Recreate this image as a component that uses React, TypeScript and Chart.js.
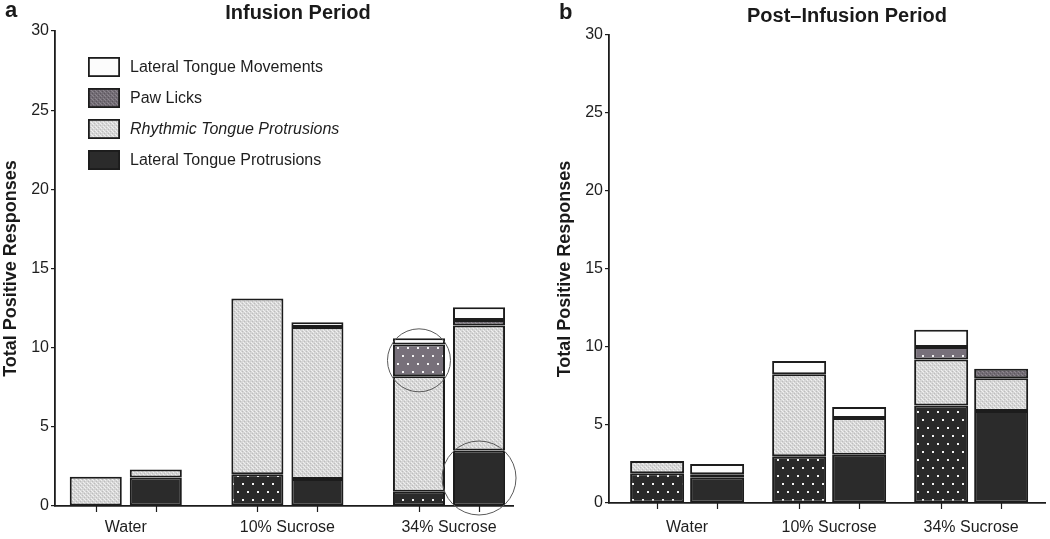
import React, { useEffect, useRef } from "react";
import { Chart, registerables } from "chart.js";

Chart.register(...registerables);

const FONT = "'Liberation Sans', Arial, Helvetica, sans-serif";

// ---------- data ----------
const CATEGORIES = ["Water", "10% Sucrose", "34% Sucrose"];
const Y_TICKS = [0, 5, 10, 15, 20, 25, 30];
// stacked bottom -> top
const BEHAVIORS = [
  "Lateral Tongue Protrusions",
  "Rhythmic Tongue Protrusions",
  "Paw Licks",
  "Lateral Tongue Movements",
];
// legend order top -> bottom
const LEGEND_ORDER = [3, 2, 1, 0];

// Panel a: Infusion Period (A = left bar of each pair, B = right bar)
const infA_LTP = [0, 2.0, 0.9];
const infA_RTP = [1.85, 11.1, 7.3];
const infA_PL = [0, 0, 2.0];
const infA_LTM = [0, 0, 0.4];
const infB_LTP = [1.8, 1.7, 3.5];
const infB_RTP = [0.5, 9.6, 7.9];
const infB_PL = [0, 0, 0.35];
const infB_LTM = [0, 0.3, 0.8];

// Panel b: Post-Infusion Period
const postA_LTP = [1.9, 3.0, 6.25];
const postA_RTP = [0.8, 5.25, 2.95];
const postA_PL = [0, 0, 0.8];
const postA_LTM = [0, 0.85, 1.1];
const postB_LTP = [1.65, 3.1, 5.9];
const postB_RTP = [0.2, 2.35, 2.1];
const postB_PL = [0, 0, 0.6];
const postB_LTM = [0.65, 0.7, 0];

// ---------- layout config ----------
type PanelCfg = {
  left: number;
  width: number;
  height: number;
  seriesA: number[][];
  seriesB: number[][];
  yAxisWidth: number;
  padRight: number;
  padTop: number;
  xAxisHeight: number;
  xMin: number;
  xMax: number;
  catPct: number;
  barPct: number;
  xLabelPad: number;
  yTitlePad: number;
  title: string;
  titleX: number;
  titleY: number;
  letter: string;
  letterX: number;
  letterY: number;
  legend: boolean;
  circles: { ds: number; cat: number; r: number }[];
};

const PANEL_A: PanelCfg = {
  left: 0,
  width: 530,
  height: 539,
  seriesA: [infA_LTP, infA_RTP, infA_PL, infA_LTM],
  seriesB: [infB_LTP, infB_RTP, infB_PL, infB_LTM],
  yAxisWidth: 55,
  padRight: 17,
  padTop: 31,
  xAxisHeight: 33,
  xMin: -0.438,
  xMax: 2.396,
  catPct: 0.743,
  barPct: 0.867,
  xLabelPad: 12,
  yTitlePad: 0,
  title: "Infusion Period",
  titleX: 298,
  titleY: 19,
  letter: "a",
  letterX: 5,
  letterY: 17,
  legend: true,
  circles: [
    { ds: 2, cat: 2, r: 31.5 },
    { ds: 4, cat: 2, r: 37 },
  ],
};

const PANEL_B: PanelCfg = {
  left: 530,
  width: 520,
  height: 539,
  seriesA: [postA_LTP, postA_RTP, postA_PL, postA_LTM],
  seriesB: [postB_LTP, postB_RTP, postB_PL, postB_LTM],
  yAxisWidth: 79,
  padRight: 5,
  padTop: 35,
  xAxisHeight: 36,
  xMin: -0.55,
  xMax: 2.52,
  catPct: 0.845,
  barPct: 0.9,
  xLabelPad: 15,
  yTitlePad: 24,
  title: "Post\u2013Infusion Period",
  titleX: 317,
  titleY: 22,
  letter: "b",
  letterX: 29,
  letterY: 19,
  legend: false,
  circles: [],
};

// ---------- patterns ----------
function tile(
  ctx: CanvasRenderingContext2D,
  w: number,
  h: number,
  draw: (g: CanvasRenderingContext2D) => void
): CanvasPattern | string {
  const c = document.createElement("canvas");
  c.width = w;
  c.height = h;
  const g = c.getContext("2d")!;
  draw(g);
  return ctx.createPattern(c, "repeat") || "#888";
}

function makeFills(ctx: CanvasRenderingContext2D) {
  const dots = (base: string) => (g: CanvasRenderingContext2D) => {
    g.fillStyle = base;
    g.fillRect(0, 0, 10, 16);
    g.fillStyle = "#f2f2f2";
    g.fillRect(2, 3, 2, 2);
    g.fillRect(7, 11, 2, 2);
  };
  const stipple = (base: string, hi: string, lo: string) => (g: CanvasRenderingContext2D) => {
    g.fillStyle = base;
    g.fillRect(0, 0, 4, 4);
    g.fillStyle = hi;
    g.fillRect(1, 0, 1, 1);
    g.fillRect(3, 2, 1, 1);
    g.fillRect(0, 3, 1, 1);
    g.fillStyle = lo;
    g.fillRect(0, 1, 1, 1);
    g.fillRect(2, 3, 1, 1);
  };
  return {
    darkDots: tile(ctx, 10, 16, dots("#2a2a2a")),
    dark: "#2b2b2b",
    light: tile(ctx, 4, 4, stipple("#d6d6d6", "#f0f0f0", "#bdbdbd")),
    pawDots: tile(ctx, 10, 16, dots("#77707a")),
    paw: tile(ctx, 4, 4, stipple("#726c74", "#8c868e", "#5c565e")),
    white: "#fcfcfc",
  };
}

const INK = "#1c1c1c";

function Panel({ cfg }: { cfg: PanelCfg }) {
  const ref = useRef<HTMLCanvasElement>(null);

  useEffect(() => {
    const canvas = ref.current!;
    const ctx = canvas.getContext("2d")!;
    const F = makeFills(ctx);
    const fillsA = [F.darkDots, F.light, F.pawDots, F.white];
    const fillsB = [F.dark, F.light, F.paw, F.white];
    const legendFills = [F.dark, F.light, F.paw, F.white];

    const toPoints = (vals: number[]) => vals.map((v, i) => ({ x: i, y: v }));

    const datasets: any[] = [];
    [
      { stack: "A", series: cfg.seriesA, fills: fillsA },
      { stack: "B", series: cfg.seriesB, fills: fillsB },
    ].forEach((grp) => {
      grp.series.forEach((vals, s) => {
        datasets.push({
          label: BEHAVIORS[s],
          stack: grp.stack,
          data: toPoints(vals),
          backgroundColor: grp.fills[s],
          borderColor: INK,
          borderWidth: 2,
          borderSkipped: false,
          categoryPercentage: cfg.catPct,
          barPercentage: cfg.barPct,
        });
      });
    });

    const decor = {
      id: "decor",
      afterDatasetsDraw(chart: any) {
        const c = chart.ctx;
        c.save();
        c.strokeStyle = "#5a5a5a";
        c.lineWidth = 1;
        cfg.circles.forEach((ci) => {
          const el = chart.getDatasetMeta(ci.ds).data[ci.cat];
          if (!el) return;
          const cy = (el.y + el.base) / 2;
          c.beginPath();
          c.arc(el.x, cy, ci.r, 0, Math.PI * 2);
          c.stroke();
        });
        c.restore();
      },
      afterDraw(chart: any) {
        const c = chart.ctx;
        const area = chart.chartArea;
        c.save();
        // x tick marks under each bar
        c.strokeStyle = INK;
        c.lineWidth = 1.2;
        [0, 4].forEach((di) => {
          chart.getDatasetMeta(di).data.forEach((el: any) => {
            c.beginPath();
            c.moveTo(Math.round(el.x) + 0.5, area.bottom);
            c.lineTo(Math.round(el.x) + 0.5, area.bottom + 6);
            c.stroke();
          });
        });
        // titles
        c.fillStyle = "#1a1a1a";
        c.textBaseline = "alphabetic";
        c.font = `bold 20px ${FONT}`;
        c.textAlign = "center";
        c.fillText(cfg.title, cfg.titleX, cfg.titleY);
        c.font = `bold 22px ${FONT}`;
        c.textAlign = "left";
        c.fillText(cfg.letter, cfg.letterX, cfg.letterY);
        // legend
        if (cfg.legend) {
          const bx = area.left + 33;
          const by = area.top + 26;
          LEGEND_ORDER.forEach((s, row) => {
            const y = by + row * 31;
            c.fillStyle = legendFills[s] as any;
            c.fillRect(bx, y, 32, 20);
            c.strokeStyle = INK;
            c.lineWidth = 1.8;
            c.strokeRect(bx + 0.9, y + 0.9, 30.2, 18.2);
            c.fillStyle = "#1e1e1e";
            c.font = `${s === 1 ? "italic " : ""}16px ${FONT}`;
            c.textBaseline = "middle";
            c.textAlign = "left";
            c.fillText(BEHAVIORS[s], bx + 42, y + 10.5);
          });
        }
        c.restore();
      },
    };

    const chart = new Chart(ctx, {
      type: "bar",
      data: { datasets },
      options: {
        animation: false,
        responsive: false,
        devicePixelRatio: 1,
        layout: { padding: { top: cfg.padTop, right: cfg.padRight, left: 0, bottom: 0 } },
        plugins: {
          legend: { display: false },
          tooltip: { enabled: false },
          title: { display: false },
        },
        scales: {
          x: {
            type: "linear",
            bounds: "data",
            min: cfg.xMin,
            max: cfg.xMax,
            offset: false,
            grid: { display: false, drawTicks: false },
            border: { display: true, color: INK, width: 1.8 },
            ticks: {
              padding: cfg.xLabelPad,
              color: "#1e1e1e",
              font: { family: FONT, size: 16 },
              autoSkip: false,
              maxRotation: 0,
              callback: (v: any) => CATEGORIES[v] ?? "",
            },
            afterBuildTicks: (s: any) => {
              s.ticks = CATEGORIES.map((_, i) => ({ value: i }));
            },
            afterFit: (s: any) => {
              s.height = cfg.xAxisHeight;
            },
          },
          y: {
            stacked: true,
            min: 0,
            max: 30,
            grid: {
              display: true,
              drawOnChartArea: false,
              drawTicks: true,
              tickLength: 4,
              color: INK,
              lineWidth: 1.2,
            },
            border: { display: true, color: INK, width: 1.8 },
            ticks: {
              padding: 2,
              color: "#1e1e1e",
              font: { family: FONT, size: 16 },
            },
            afterBuildTicks: (s: any) => {
              s.ticks = Y_TICKS.map((v) => ({ value: v }));
            },
            afterFit: (s: any) => {
              s.width = cfg.yAxisWidth;
            },
            title: {
              display: true,
              text: "Total Positive Responses",
              color: "#1a1a1a",
              font: { family: FONT, size: 18, weight: "bold" },
              padding: { top: cfg.yTitlePad, bottom: 0 },
            },
          },
        },
      } as any,
      plugins: [decor],
    });

    return () => chart.destroy();
  }, [cfg]);

  return (
    <div style={{ position: "absolute", left: cfg.left, top: 0, width: cfg.width, height: cfg.height }}>
      <canvas ref={ref} width={cfg.width} height={cfg.height} style={{ display: "block" }} />
    </div>
  );
}

export default function App() {
  return (
    <div
      style={{
        position: "absolute",
        left: 0,
        top: 0,
        width: 1050,
        height: 539,
        background: "#ffffff",
        overflow: "hidden",
      }}
    >
      <Panel cfg={PANEL_A} />
      <Panel cfg={PANEL_B} />
    </div>
  );
}
